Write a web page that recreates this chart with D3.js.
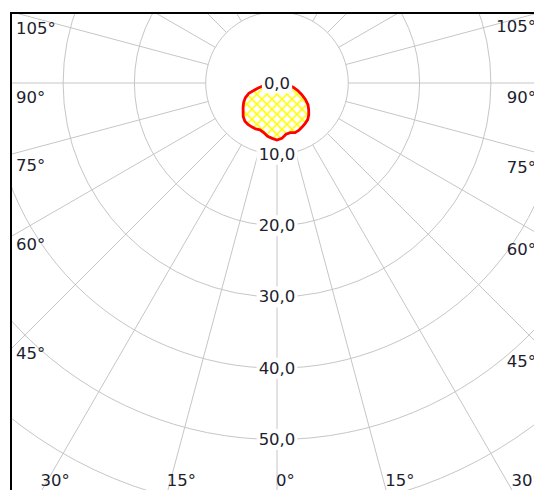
<!DOCTYPE html>
<html>
<head>
<meta charset="utf-8">
<script src="https://cdn.jsdelivr.net/npm/d3@7"></script>
<style>
  html, body { margin: 0; padding: 0; background: #fff; overflow: hidden; }
  svg text { font-family: "DejaVu Sans", sans-serif; font-size: 16.5px; fill: #1e1e2e; }
</style>
</head>
<body>
<div class="chart"></div>
<script>
/* angles from nadir (0 = straight down), in degrees */
const curveAngles = [0, 5, 10, 15, 20, 25, 30, 35, 40, 45, 50, 55, 60, 65, 70, 75, 80, 85, 90];
/* intensity on the left half (C0) and right half (C180) */
const leftValues  = [8.0, 7.8, 7.6, 7.2, 7.0, 7.1, 7.1, 7.1, 7.0, 6.7, 6.2, 5.8, 5.4, 4.9, 4.2, 2.8, 1.8, 1.0, 0.4];
const rightValues = [8.0, 7.8, 7.3, 7.2, 7.4, 7.3, 7.1, 6.9, 6.7, 6.3, 5.8, 5.3, 4.6, 3.8, 3.1, 2.4, 1.7, 1.0, 0.4];

/* rings and their labels */
const ringValues = [0, 10, 20, 30, 40, 50, 60];
const ringLabelValues = [0, 10, 20, 30, 40, 50];

/* angle labels shown at the frame */
const angleTicks = [0, 15, 30, 45, 60, 75, 90, 105];
const spokeStep = 15;

document.addEventListener('DOMContentLoaded', function() {
  const w = 534;
  const h = 490;
  const cx = 277, cy = 83;
  const frame = { left: 11, top: 13, right: 551, bottom: 491 };
  const rad = (d) => d * Math.PI / 180;

  const rScale = d3.scaleLinear().domain([0, 10]).range([0, 71.3]);
  const fmt = d3.formatLocale({ decimal: ",", thousands: ".", grouping: [3], currency: ["", ""] }).format(".1f");

  const svg = d3.select(".chart")
    .append("svg")
    .attr("width", w)
    .attr("height", h);

  const defs = svg.append("defs");
  defs.append("clipPath").attr("id", "plotClip")
    .append("rect")
    .attr("x", frame.left).attr("y", frame.top)
    .attr("width", frame.right - frame.left)
    .attr("height", frame.bottom - frame.top);

  /* yellow diagonal cross hatch */
  const hs = 7.1;
  const pat = defs.append("pattern")
    .attr("id", "hatch")
    .attr("patternUnits", "userSpaceOnUse")
    .attr("width", hs).attr("height", hs)
    .attr("patternTransform", "rotate(45)");
  pat.append("rect").attr("width", hs).attr("height", hs).attr("fill", "#fff");
  pat.append("path")
    .attr("d", "M0,0.7 H" + hs + " M0.7,0 V" + hs)
    .attr("stroke", "#ffff00")
    .attr("stroke-width", 1.5);

  const plot = svg.append("g").attr("clip-path", "url(#plotClip)");
  const g = plot.append("g").attr("transform", "translate(" + cx + "," + cy + ")");

  /* rings */
  g.selectAll("circle.ring")
    .data(ringValues.filter(v => v > 0))
    .enter()
    .append("circle")
    .attr("class", "ring")
    .attr("r", d => rScale(d))
    .attr("fill", "none")
    .attr("stroke", "#c6c6c6")
    .attr("stroke-width", 1);

  /* spokes, starting at the first ring */
  const spokes = d3.range(0, 360, spokeStep);
  const rIn = rScale(ringValues[1]);
  const rOut = rScale(90);
  g.selectAll("line.spoke")
    .data(spokes)
    .enter()
    .append("line")
    .attr("class", "spoke")
    .attr("x1", d => rIn * Math.sin(rad(d)))
    .attr("y1", d => rIn * Math.cos(rad(d)))
    .attr("x2", d => rOut * Math.sin(rad(d)))
    .attr("y2", d => rOut * Math.cos(rad(d)))
    .attr("stroke", "#c6c6c6")
    .attr("stroke-width", 1);

  /* light distribution curve */
  const pts = [];
  for (let i = curveAngles.length - 1; i >= 0; i--) {
    pts.push({ a: Math.PI - rad(curveAngles[i]), v: rightValues[i] });
  }
  for (let i = 1; i < curveAngles.length; i++) {
    pts.push({ a: Math.PI + rad(curveAngles[i]), v: leftValues[i] });
  }
  const radial = d3.lineRadial()
    .angle(d => d.a)
    .radius(d => rScale(d.v))
    .curve(d3.curveLinearClosed);

  g.append("path")
    .datum(pts)
    .attr("d", radial)
    .attr("fill", "url(#hatch)")
    .attr("stroke", "#ff0000")
    .attr("stroke-width", 2.8)
    .attr("stroke-linejoin", "miter");

  /* ring labels with white backing */
  const ringLab = g.selectAll("g.ringLabel")
    .data(ringLabelValues)
    .enter()
    .append("g")
    .attr("class", "ringLabel")
    .attr("transform", d => "translate(0," + rScale(d) + ")");
  ringLab.append("rect").attr("fill", "#fff");
  ringLab.append("text")
    .attr("text-anchor", "middle")
    .attr("dominant-baseline", "central")
    .text(d => fmt(d));
  ringLab.each(function() {
    const bb = d3.select(this).select("text").node().getBBox();
    d3.select(this).select("rect")
      .attr("x", bb.x - 2).attr("y", bb.y - 1)
      .attr("width", bb.width + 4).attr("height", bb.height + 2);
  });

  /* angle labels along the frame */
  const angleLabels = [];
  angleTicks.forEach(t => {
    [-1, 1].forEach(side => {
      if (t === 0 && side === 1) return;
      const bx = cx + side * (frame.bottom - cy) * Math.tan(rad(t));
      if (t < 90 && bx > frame.left && bx < frame.right) {
        angleLabels.push({ t: t, x: bx - 1, y: 486, anchor: "start", base: "auto" });
      } else {
        const xi = side < 0 ? frame.left + 10 : frame.right - 10;
        const yi = cy + Math.abs(xi - cx) * Math.cos(rad(t)) / Math.sin(rad(t));
        angleLabels.push({
          t: t,
          x: side < 0 ? frame.left + 5 : 536,
          y: yi + 14,
          anchor: side < 0 ? "start" : "end",
          base: "central"
        });
      }
    });
  });

  plot.selectAll("text.angle")
    .data(angleLabels)
    .enter()
    .append("text")
    .attr("class", "angle")
    .attr("x", d => d.x)
    .attr("y", d => d.y)
    .attr("text-anchor", d => d.anchor)
    .attr("dominant-baseline", d => d.base)
    .text(d => d.t + "°");

  /* frame */
  svg.append("rect")
    .attr("x", frame.left).attr("y", frame.top)
    .attr("width", frame.right - frame.left)
    .attr("height", frame.bottom - frame.top)
    .attr("fill", "none")
    .attr("stroke", "#000")
    .attr("stroke-width", 2);
});
</script>
</body>
</html>
